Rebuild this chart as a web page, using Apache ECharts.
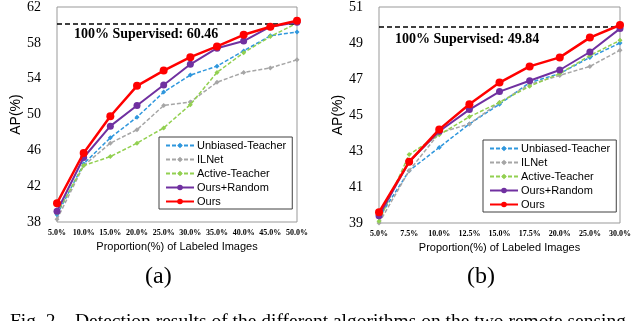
<!DOCTYPE html>
<html>
<head>
<meta charset="utf-8">
<style>html,body{margin:0;padding:0;background:#fff}</style>
<script src="https://cdn.jsdelivr.net/npm/echarts@6/dist/echarts.min.js"></script>
</head>
<body>
<div id="main" style="width:640px;height:321px;"></div>
<script>
var names = ['Unbiased-Teacher', 'ILNet', 'Active-Teacher', 'Ours+Random', 'Ours'];
var colors = ['#2F97DD', '#A6A6A6', '#92D050', '#7030A0', '#FF0000'];

// (a)
var catsA = ['5.0%', '10.0%', '15.0%', '20.0%', '25.0%', '30.0%', '35.0%', '40.0%', '45.0%', '50.0%'];
var utA = [38.8, 44.5, 47.4, 49.7, 52.5, 54.4, 55.4, 57.1, 58.8, 59.2];
var ilA = [38.3, 44.3, 46.8, 48.3, 51.0, 51.4, 53.6, 54.7, 55.2, 56.1];
var atA = [39.0, 44.3, 45.3, 46.8, 48.5, 51.1, 54.7, 56.9, 58.7, 60.2];
var orA = [39.2, 45.2, 48.7, 51.0, 53.3, 55.6, 57.4, 58.2, 59.8, 60.3];
var ouA = [40.1, 45.7, 49.8, 53.2, 54.9, 56.4, 57.6, 58.9, 59.8, 60.46];
var supA = 60.1;

// (b)
var catsB = ['5.0%', '7.5%', '10.0%', '12.5%', '15.0%', '17.5%', '20.0%', '25.0%', '30.0%'];
var utB = [39.3, 41.9, 43.2, 44.5, 45.6, 46.8, 47.3, 48.2, 49.0];
var ilB = [39.0, 41.9, 44.0, 44.5, 45.7, 46.7, 47.2, 47.7, 48.6];
var atB = [39.1, 42.8, 43.9, 44.9, 45.7, 46.6, 47.3, 48.3, 49.15];
var orB = [39.4, 42.4, 44.1, 45.3, 46.3, 46.9, 47.5, 48.5, 49.8];
var ouB = [39.6, 42.4, 44.2, 45.6, 46.8, 47.7, 48.2, 49.3, 50.0];
var supB = 49.9;

var myChart = echarts.init(document.getElementById('main'));

function mk(i, data, idx) {
    var solid = i >= 3;
    var s = {
        name: names[i],
        type: 'line',
        xAxisIndex: idx,
        yAxisIndex: idx,
        data: data,
        symbol: solid ? 'circle' : 'diamond',
        symbolSize: i == 4 ? 8 : (i == 3 ? 7 : 5),
        z: 2 + i,
        lineStyle: {color: colors[i], width: i == 4 ? 2.5 : (solid ? 2 : 1.5), type: solid ? 'solid' : [4, 2]},
        itemStyle: {color: colors[i]}
    };
    return s;
}

function supLine(v, idx) {
    return {
        type: 'line', xAxisIndex: idx, yAxisIndex: idx, data: [], silent: true,
        markLine: {
            symbol: 'none', silent: true, label: {show: false},
            lineStyle: {color: '#000', type: [5, 3], width: 1.5},
            data: [{yAxis: v}]
        }
    };
}

var serif = 'Liberation Serif';
var sans = 'Liberation Sans';

function xAx(cats, idx) {
    return {
        type: 'category', gridIndex: idx, data: cats, boundaryGap: false,
        axisLine: {show: false}, axisTick: {show: false},
        axisLabel: {color: '#000', fontFamily: serif, fontWeight: 'bold', fontSize: 8, margin: 7, interval: 0},
        name: 'Proportion(%) of Labeled Images', nameLocation: 'middle', nameGap: 19,
        nameTextStyle: {color: '#000', fontFamily: sans, fontSize: 11}
    };
}
function yAx(min, max, step, idx) {
    return {
        type: 'value', gridIndex: idx, min: min, max: max, interval: step,
        splitLine: {show: false}, axisLine: {show: false}, axisTick: {show: false},
        axisLabel: {color: '#000', fontFamily: serif, fontSize: 14, margin: 16},
        name: 'AP(%)', nameLocation: 'middle', nameGap: 33,
        nameTextStyle: {color: '#000', fontFamily: sans, fontSize: 14}
    };
}
function lg(left, top) {
    return {
        orient: 'vertical', left: left, top: top, width: 138,
        itemWidth: 28, itemHeight: 7, itemGap: 3, padding: [3, 6, 2, 6],
        borderColor: '#404040', borderWidth: 1, backgroundColor: '#fff',
        textStyle: {color: '#000', fontFamily: sans, fontSize: 11, padding: [0, 0, 0, -2]},
        data: names
    };
}

option = {
    animation: false,
    grid: [
        {left: 57, top: 5, width: 240, height: 217, show: true, borderColor: '#999', borderWidth: 1},
        {left: 379, top: 4, width: 241, height: 219, show: true, borderColor: '#999', borderWidth: 1}
    ],
    xAxis: [xAx(catsA, 0), xAx(catsB, 1)],
    yAxis: [yAx(38, 62, 4, 0), yAx(39, 51, 2, 1)],
    legend: [lg(159, 137), lg(483, 140)],
    graphic: [
        {type: 'text', left: 74, top: 27, style: {text: '100% Supervised: 60.46', font: 'bold 14px "Liberation Serif"', fill: '#000'}},
        {type: 'text', left: 395, top: 32, style: {text: '100% Supervised: 49.84', font: 'bold 14px "Liberation Serif"', fill: '#000'}},
        {type: 'text', left: 145, top: 265, style: {text: '(a)', font: '24px "Liberation Serif"', fill: '#000'}},
        {type: 'text', left: 467, top: 265, style: {text: '(b)', font: '24px "Liberation Serif"', fill: '#000'}},
        {type: 'text', left: 10, top: 312, style: {text: 'Fig. 2.   Detection results of the different algorithms on the two remote sensing', font: '19.5px "Liberation Serif"', fill: '#000'}}
    ],
    series: [
        supLine(supA, 0), supLine(supB, 1),
        mk(0, utA, 0), mk(1, ilA, 0), mk(2, atA, 0), mk(3, orA, 0), mk(4, ouA, 0),
        mk(0, utB, 1), mk(1, ilB, 1), mk(2, atB, 1), mk(3, orB, 1), mk(4, ouB, 1)
    ]
};

myChart.setOption(option);
</script>
</body>
</html>
